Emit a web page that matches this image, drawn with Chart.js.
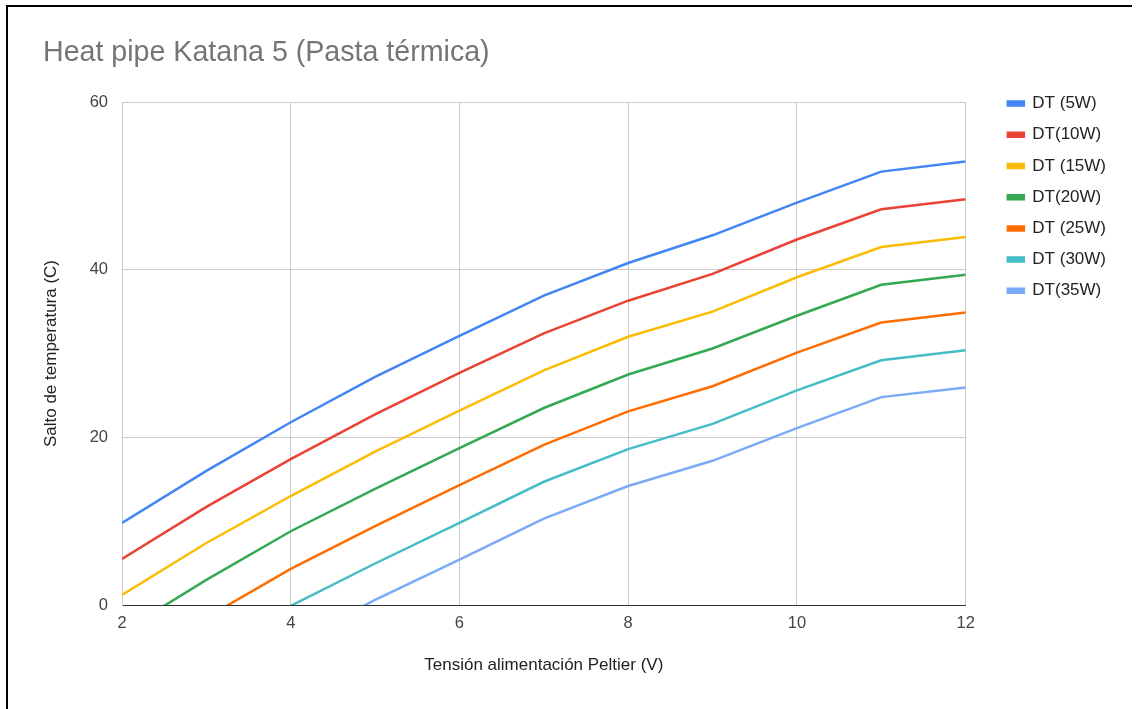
<!DOCTYPE html>
<html>
<head>
<meta charset="utf-8">
<script src="https://cdn.jsdelivr.net/npm/chart.js@4/dist/chart.umd.min.js"></script>
<style>
  html, body { margin: 0; padding: 0; background: #fff; }
  #wrap { position: relative; width: 1140px; height: 709px; overflow: hidden; }
  #frame { position: absolute; left: 6px; top: 5px; width: 1124px; height: 720px;
           border-left: 2px solid #000; border-top: 2px solid #000; pointer-events: none; }
</style>
</head>
<body>
<div id="wrap">
  <canvas id="chart" width="1140" height="709"></canvas>
  <div id="frame"></div>
</div>
<script>
// Tensión de alimentación del Peltier (V)
const volts = [2, 3, 4, 5, 6, 7, 8, 9, 10, 11, 12];

// Salto de temperatura (C) para cada potencia
const dt5  = [9.8, 16.0, 21.8, 27.2, 32.1, 36.9, 40.8, 44.1, 48.0, 51.7, 52.9];
const dt10 = [5.5, 11.7, 17.4, 22.75, 27.7, 32.4, 36.3, 39.5, 43.6, 47.2, 48.4];
const dt15 = [1.2, 7.4, 13.0, 18.3, 23.2, 28.0, 32.0, 35.0, 39.1, 42.7, 43.9];
const dt20 = [-3.2, 3.0, 8.8, 13.85, 18.7, 23.5, 27.5, 30.6, 34.5, 38.2, 39.4];
const dt25 = [-7.7, -1.5, 4.3, 9.4, 14.3, 19.1, 23.1, 26.1, 30.1, 33.7, 34.9];
const dt30 = [-12.1, -5.9, -0.1, 4.95, 9.8, 14.7, 18.6, 21.6, 25.6, 29.2, 30.4];
const dt35 = [-16.6, -10.4, -4.6, 0.6, 5.4, 10.3, 14.2, 17.2, 21.1, 24.8, 25.95];

const seriesNames = ['DT (5W)', 'DT(10W)', 'DT (15W)', 'DT(20W)', 'DT (25W)', 'DT (30W)', 'DT(35W)'];
const seriesValues = [dt5, dt10, dt15, dt20, dt25, dt30, dt35];
const seriesColors = ['#4285f4', '#ea4335', '#fbbc04', '#34a853', '#ff6d01', '#46bdc6', '#7baaf7'];

const yTicks = [0, 20, 40, 60];
const xTicks = [2, 4, 6, 8, 10, 12];

const FONT = '"Liberation Sans", Arial, sans-serif';

const datasets = seriesNames.map((name, i) => ({
    label: name,
    data: volts.map((v, j) => ({ x: v, y: seriesValues[i][j] })),
    borderColor: seriesColors[i],
    backgroundColor: seriesColors[i],
    borderWidth: 2.5,
    pointRadius: 0,
    pointHoverRadius: 0,
    tension: 0
}));

new Chart(document.getElementById('chart'), {
    type: 'line',
    data: { datasets: datasets },
    options: {
        responsive: false,
        animation: false,
        layout: { padding: { left: 43, right: 24, top: 0, bottom: 0 } },
        plugins: {
            title: {
                display: true,
                text: 'Heat pipe Katana 5 (Pasta térmica)',
                align: 'start',
                color: '#757575',
                font: { family: FONT, size: 28.6, weight: 'normal', lineHeight: 1.2 },
                padding: { top: 35.8, bottom: 31.9 }
            },
            legend: {
                position: 'right',
                align: 'start',
                title: {
                    display: true,
                    text: ' ',
                    font: { family: FONT, size: 10, lineHeight: 1 },
                    padding: { top: 70.9, bottom: 0 }
                },
                labels: {
                    boxWidth: 16,
                    boxHeight: 4,
                    padding: 14.2,
                    color: '#222',
                    font: { family: FONT, size: 17 }
                }
            },
            tooltip: { enabled: false }
        },
        scales: {
            x: {
                type: 'linear',
                min: 2,
                max: 12,
                afterBuildTicks: s => { s.ticks = xTicks.map(v => ({ value: v })); },
                afterFit: s => { s.height = 104; },
                grid: { color: '#cccccc', drawTicks: false },
                border: { color: '#333', width: 1 },
                ticks: { color: '#444', padding: 9, font: { family: FONT, size: 16.5 } },
                title: {
                    display: true,
                    text: 'Tensión alimentación Peltier (V)',
                    color: '#222',
                    font: { family: FONT, size: 17 },
                    padding: { top: 0, bottom: 33 }
                }
            },
            x2: {
                type: 'linear',
                position: 'top',
                display: false
            },
            y: {
                min: 0,
                max: 60,
                afterBuildTicks: s => { s.ticks = yTicks.map(v => ({ value: v })); },
                afterFit: s => { s.width = 79; },
                grid: {
                    color: c => (c.tick && c.tick.value === 0 ? '#333' : '#cccccc'),
                    drawTicks: false
                },
                border: { color: '#cccccc' },
                ticks: { color: '#444', padding: 14, font: { family: FONT, size: 16.5 } },
                title: {
                    display: true,
                    text: 'Salto de temperatura (C)',
                    color: '#222',
                    font: { family: FONT, size: 17, lineHeight: 1 },
                    padding: { top: 0, bottom: 0 }
                }
            },
            y2: {
                type: 'linear',
                position: 'right',
                grid: { display: false },
                border: { display: false },
                ticks: { display: false },
                afterFit: s => { s.width = 28; }
            }
        }
    }
});
</script>
</body>
</html>
